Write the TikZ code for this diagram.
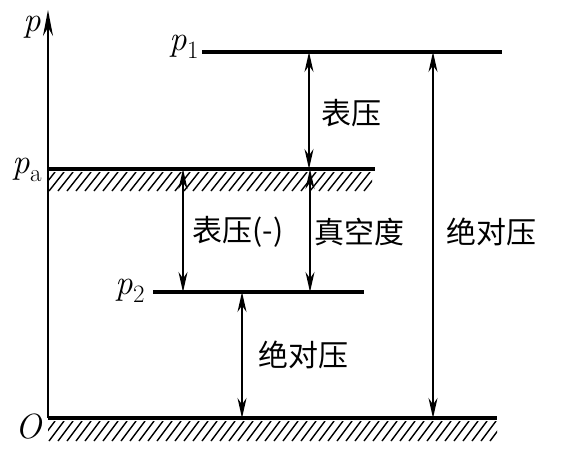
\documentclass[tikz,border=0pt]{standalone}
\usepackage{fontspec}
\newfontfamily\cjk{Noto Sans CJK SC}
\usetikzlibrary{arrows.meta}
\newcommand{\subidx}[1]{\raisebox{-0.22em}{\fontsize{25}{27}\selectfont #1}}
\tikzset{
  level/.style={line width=3.2pt},
  gauge/.style={line width=1.6pt,{Stealth[length=20pt,width=9pt]}-{Stealth[length=20pt,width=9pt]}},
  hatch/.style={line width=1.4pt},
  lbl/.style={font=\cjk\fontsize{30}{34}\selectfont,inner sep=0pt},
  sym/.style={font=\fontsize{35}{38}\selectfont\itshape,inner sep=0pt}
}
\begin{document}
\begin{tikzpicture}[x=1pt,y=-1pt]
\useasboundingbox (0,0) rectangle (569,469);

% levels
\coordinate (o0) at (48,418);
\coordinate (o1) at (497,418);
\coordinate (a0) at (48,169);
\coordinate (a1) at (375,169);
\coordinate (p10) at (202,52);
\coordinate (p11) at (502,52);
\coordinate (p20) at (153,292);
\coordinate (p21) at (364,292);
\coordinate (top) at (48,10);

% hatching
\begin{scope}
\clip (48,421) rectangle (497,441);
\foreach \x in {40,49,...,500} \draw[hatch] (\x,441) -- (\x+15,421);
\end{scope}
\begin{scope}
\clip (48,172) rectangle (372,191);
\foreach \x in {40,49,...,380} \draw[hatch] (\x,191) -- (\x+15,172);
\end{scope}

\draw[line width=1.8pt,-{Stealth[length=26pt,width=10pt]}] (o0) -- (top);
\draw[level] (o0) -- (o1);
\draw[level] (a0) -- (a1);
\draw[level] (p10) -- (p11);
\draw[level] (p20) -- (p21);

\node[sym] (p) at (32,27) {p};
\node[sym] (pone) at (184,47) {p\subidx{\upshape 1}};
\node[sym] (pa) at (27,170) {p\subidx{\upshape a}};
\node[sym] (ptwo) at (130,291) {p\subidx{\upshape 2}};
\node[sym] (O) at (29,427) {O};

% pressures
\draw[gauge] (309,52) -- (309,169);
\draw[gauge] (183,169) -- (183,292);
\draw[gauge] (310,169) -- (310,292);
\draw[gauge] (242,292) -- (242,418);
\draw[gauge] (433,52) -- (433,418);

\node[lbl] (gauge1) at (351,113) {表压};
\node[lbl] (gauge2) at (238,232) {表压(-)};
\node[lbl] (vacuum) at (359,232) {真空度};
\node[lbl] (abs1) at (491,232) {绝对压};
\node[lbl] (abs2) at (303,355) {绝对压};
\end{tikzpicture}
\end{document}
